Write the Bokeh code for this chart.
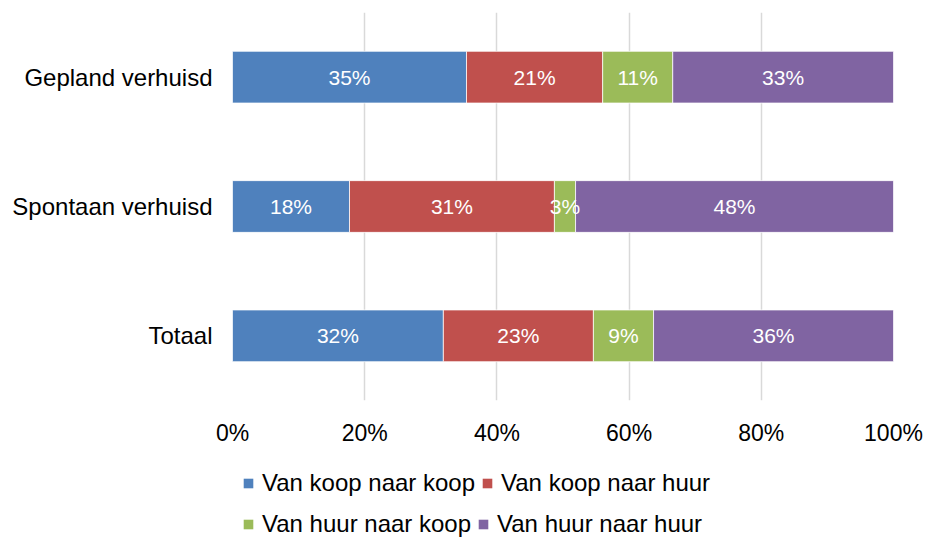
from bokeh.plotting import figure
from bokeh.layouts import column
from bokeh.models import FactorRange, Legend, LegendItem, PrintfTickFormatter, FixedTicker, ColumnDataSource
from bokeh.core.properties import value
from bokeh.embed import file_html
from bokeh.resources import INLINE

categories = ["Gepland verhuisd", "Spontaan verhuisd", "Totaal"]
series_names = ["Van koop naar koop", "Van koop naar huur", "Van huur naar koop", "Van huur naar huur"]
koop_koop = [35.4, 17.7, 31.9]
koop_huur = [20.6, 31.0, 22.7]
huur_koop = [10.6, 3.2, 9.1]
huur_huur = [33.4, 48.1, 36.3]
x_ticks = [0, 20, 40, 60, 80, 100]
colors = ["#4F81BD", "#C0504D", "#9BBB59", "#8064A2"]

FONT = "Liberation Sans"
keys = ["kk", "kh", "hk", "hh"]
series = [koop_koop, koop_huur, huur_koop, huur_huur]

data = {"cat": categories}
for k, s in zip(keys, series):
    data[k] = s
source = ColumnDataSource(data)

p = figure(width=926, height=460, output_backend="svg", toolbar_location=None,
           y_range=FactorRange(factors=list(reversed(categories)), range_padding=0),
           x_range=(0, 100),
           min_border_left=232, min_border_right=33, min_border_top=12, min_border_bottom=60)
p.outline_line_color = None
p.background_fill_color = "white"

renderers = p.hbar_stack(keys, y="cat", height=0.4, color=colors, source=source,
                         line_color="white", line_width=0.75)

# bar labels
lx, ly, lt = [], [], []
for i, c in enumerate(categories):
    left = 0.0
    for s in series:
        v = s[i]
        lx.append(left + v / 2)
        ly.append(c)
        lt.append(f"{round(v)}%")
        left += v
p.text(x=lx, y=ly, text=lt, text_color="white", text_font=value(FONT),
       text_font_size="21px", text_align="center", text_baseline="middle")

p.xaxis.ticker = FixedTicker(ticks=x_ticks)
p.xaxis.formatter = PrintfTickFormatter(format="%d%%")
p.xaxis.axis_line_color = None
p.xaxis.major_tick_line_color = None
p.xaxis.minor_tick_line_color = None
p.xaxis.major_tick_out = 0
p.xaxis.major_label_standoff = 19
p.xaxis.major_label_text_font = FONT
p.xaxis.major_label_text_font_size = "23px"
p.xaxis.major_label_text_color = "#000000"

p.yaxis.axis_line_color = None
p.yaxis.major_tick_line_color = None
p.yaxis.minor_tick_line_color = None
p.yaxis.major_tick_out = 0
p.yaxis.major_label_standoff = 20
p.yaxis.major_label_text_font = FONT
p.yaxis.major_label_text_font_size = "24px"
p.yaxis.major_label_text_color = "#000000"

p.ygrid.grid_line_color = None
p.xgrid.grid_line_color = "#D9D9D9"
p.xgrid.grid_line_width = 1.5

# legend figure (below the chart)
lg = figure(width=926, height=78, output_backend="svg", toolbar_location=None,
            x_axis_type=None, y_axis_type=None, x_range=(0, 1), y_range=(0, 1),
            min_border=0)
lg.outline_line_color = None
lg.grid.visible = False
nan = float("nan")
swatches = [lg.quad(left=[nan], right=[nan], top=[nan], bottom=[nan],
                    fill_color=c, line_color=None) for c in colors]

def make_legend(idx, loc):
    return Legend(items=[LegendItem(label=series_names[i], renderers=[swatches[i]]) for i in idx],
                  orientation="horizontal", location=loc,
                  glyph_width=12, glyph_height=12, label_standoff=8, spacing=6,
                  padding=0, margin=0, border_line_color=None, background_fill_alpha=0,
                  label_text_font=FONT, label_text_font_size="24px", label_text_color="#000000")

lg.add_layout(make_legend([0, 1], (10, 41)), "center")
lg.add_layout(make_legend([2, 3], (10, 0)), "center")

layout = column(p, lg, spacing=0)
open("out.html", "w").write(file_html(layout, INLINE))
